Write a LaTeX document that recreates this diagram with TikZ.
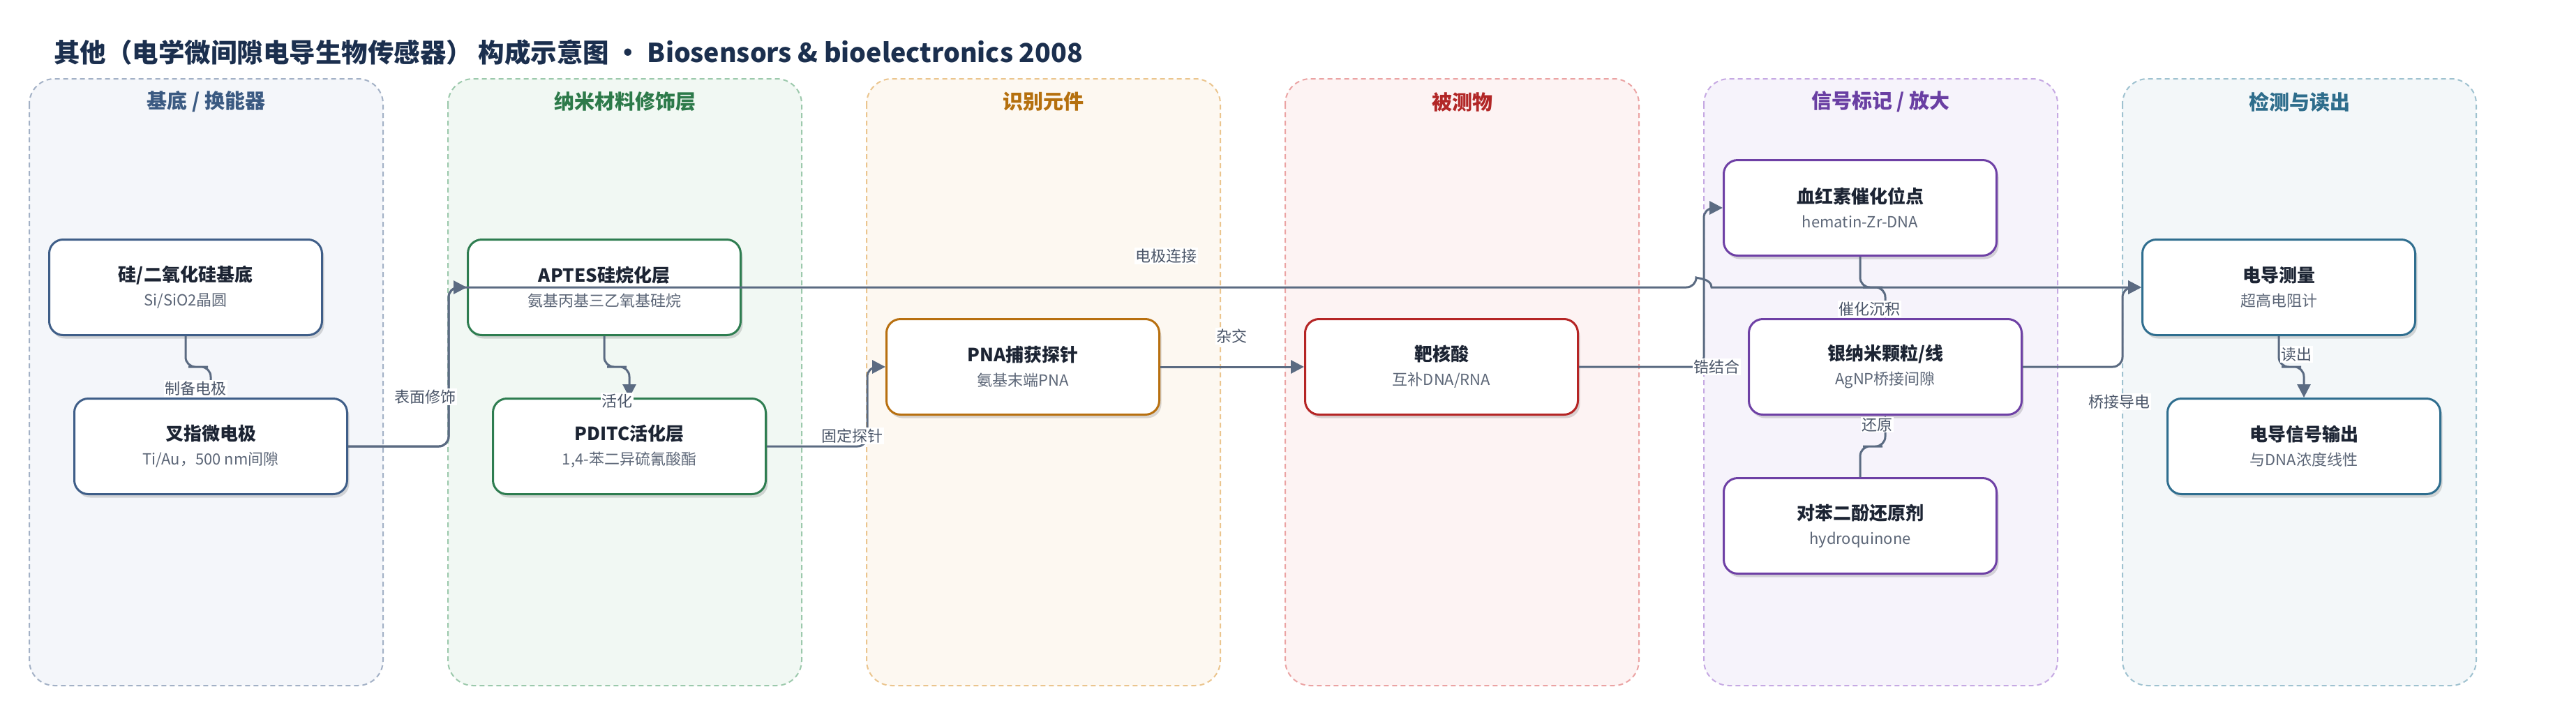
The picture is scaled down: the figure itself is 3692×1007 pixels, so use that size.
\documentclass[tikz,border=0pt]{standalone}
\usepackage{fontspec}
\setmainfont{Noto Sans CJK SC}
\usetikzlibrary{arrows.meta,shadows,calc}
\definecolor{laneAf}{HTML}{F4F6FA}\definecolor{laneAd}{HTML}{A3B1C6}\definecolor{laneAt}{HTML}{3B5A82}\definecolor{laneAn}{HTML}{3F5E88}
\definecolor{laneBf}{HTML}{F1F8F3}\definecolor{laneBd}{HTML}{9CC9AC}\definecolor{laneBt}{HTML}{2D7A4A}\definecolor{laneBn}{HTML}{2E7D50}
\definecolor{laneCf}{HTML}{FDF8F1}\definecolor{laneCd}{HTML}{EBC58E}\definecolor{laneCt}{HTML}{B5700E}\definecolor{laneCn}{HTML}{B87010}
\definecolor{laneDf}{HTML}{FDF3F3}\definecolor{laneDd}{HTML}{EBA3A3}\definecolor{laneDt}{HTML}{B22727}\definecolor{laneDn}{HTML}{B52525}
\definecolor{laneEf}{HTML}{F6F3FB}\definecolor{laneEd}{HTML}{C6A9E3}\definecolor{laneEt}{HTML}{6A3FA3}\definecolor{laneEn}{HTML}{6E40A5}
\definecolor{laneFf}{HTML}{F3F7F9}\definecolor{laneFd}{HTML}{9FC2D0}\definecolor{laneFt}{HTML}{2E6D8C}\definecolor{laneFn}{HTML}{2F6E8F}
\definecolor{edgec}{HTML}{5B6B82}
\definecolor{titlec}{HTML}{1B2F4E}
\definecolor{nodettl}{HTML}{1C2433}
\definecolor{nodesub}{HTML}{5C6677}
\definecolor{lblc}{HTML}{4A5568}
\newcommand\ttl[1]{{\fontsize{26}{30}\selectfont\bfseries\color{nodettl}#1}}
\begin{document}
\begin{tikzpicture}[x=1pt,y=-1pt,
  lane/.style={dashed, dash pattern=on 7pt off 5pt, line width=2pt, rounded corners=36pt},
  lanetitle/.style={font=\fontsize{29}{32}\selectfont\bfseries, inner sep=0pt},
  box/.style={rectangle, rounded corners=20pt, minimum width=391pt, minimum height=137pt,
    line width=3pt, fill=white, align=center, text=nodesub,
    font=\fontsize{22}{35}\selectfont,
    drop shadow={shadow xshift=3pt, shadow yshift=-5pt, opacity=0.14, fill=black}},
  conn/.style={draw=edgec, line width=3pt, rounded corners=14pt, -{Triangle[length=19pt,width=19pt]}},
  lbl/.style={fill=white, text=lblc, font=\fontsize{22}{24}\selectfont, inner sep=1.5pt}
]
\useasboundingbox (0,0) rectangle (3692,1007);
\fill[white] (0,0) rectangle (3692,1007);

\node[anchor=west, text=titlec, font=\fontsize{37.5}{42}\selectfont\bfseries, inner sep=0pt] (title) at (77,75)
  {其他（电学微间隙电导生物传感器） 构成示意图 • Biosensors \& bioelectronics 2008};

% lanes
\draw[lane, fill=laneAf, draw=laneAd] (42,113) rectangle (549,983);
\draw[lane, fill=laneBf, draw=laneBd] (642,113) rectangle (1149,983);
\draw[lane, fill=laneCf, draw=laneCd] (1242,113) rectangle (1749,983);
\draw[lane, fill=laneDf, draw=laneDd] (1842,113) rectangle (2349,983);
\draw[lane, fill=laneEf, draw=laneEd] (2442,113) rectangle (2949,983);
\draw[lane, fill=laneFf, draw=laneFd] (3042,113) rectangle (3549,983);

\node[lanetitle, text=laneAt] (t1) at (295.5,146) {基底 / 换能器};
\node[lanetitle, text=laneBt] (t2) at (895.5,146) {纳米材料修饰层};
\node[lanetitle, text=laneCt] (t3) at (1495.5,146) {识别元件};
\node[lanetitle, text=laneDt] (t4) at (2095.5,146) {被测物};
\node[lanetitle, text=laneEt] (t5) at (2695.5,146) {信号标记 / 放大};
\node[lanetitle, text=laneFt] (t6) at (3295.5,146) {检测与读出};

% nodes
\node[box, draw=laneAn] (n1) at (266,412) {\ttl{硅/二氧化硅基底}\\Si/SiO2晶圆};
\node[box, draw=laneAn] (n2) at (302,640) {\ttl{叉指微电极}\\Ti/Au，500 nm间隙};
\node[box, draw=laneBn] (n3) at (866,412) {\ttl{APTES硅烷化层}\\氨基丙基三乙氧基硅烷};
\node[box, draw=laneBn] (n4) at (902,640) {\ttl{PDITC活化层}\\1,4-苯二异硫氰酸酯};
\node[box, draw=laneCn] (n5) at (1466,526) {\ttl{PNA捕获探针}\\氨基末端PNA};
\node[box, draw=laneDn] (n6) at (2066,526) {\ttl{靶核酸}\\互补DNA/RNA};
\node[box, draw=laneEn] (n7) at (2666,298) {\ttl{血红素催化位点}\\hematin-Zr-DNA};
\node[box, draw=laneEn] (n8) at (2702,526) {\ttl{银纳米颗粒/线}\\AgNP桥接间隙};
\node[box, draw=laneEn] (n9) at (2666,754) {\ttl{对苯二酚还原剂}\\hydroquinone};
\node[box, draw=laneFn] (n10) at (3266,412) {\ttl{电导测量}\\超高电阻计};
\node[box, draw=laneFn] (n11) at (3302,640) {\ttl{电导信号输出}\\与DNA浓度线性};

\coordinate (c2) at (643,0);
\coordinate (c3) at (1243,0);
\coordinate (c5) at (2442,0);
\coordinate (c6) at (3042,0);

% connectors
\draw[conn] (n1.south) |- ($(n1.south)!0.5!(n2.north)$) -| (n2.north);
\draw[conn] (n2.east) -| (c2 |- n3.west) -- (n3.west);
\draw[conn] (n2.east) -| (c2 |- n3.west) -- (2431,412) [sharp corners] .. controls (2431,399) and (2453,399) .. (2453,412) -- (n10.west);
\draw[conn] (n3.south) |- ($(n3.south)!0.5!(n4.north)$) -| (n4.north);
\draw[conn] (n4.east) -| (c3 |- n5.west) -- (n5.west);
\draw[conn] (n5.east) -- (n6.west);
\draw[conn] (n6.east) -| (c5 |- n7.west) -- (n7.west);
\draw[conn] (n7.south) |- ($(n7.south)!0.5!(n8.north)$) -| (n8.north);
\draw[conn] (n9.north) |- ($(n9.north)!0.5!(n8.south)$) -| (n8.south);
\draw[conn] (n8.east) -| (c6 |- n10.west) -- (n10.west);
\draw[conn] (n10.south) |- ($(n10.south)!0.5!(n11.north)$) -| (n11.north);

% labels
\node[lbl] (l1) at (280,557) {制备电极};
\node[lbl] (l2) at (609,569) {表面修饰};
\node[lbl] (l3) at (1671,367) {电极连接};
\node[lbl] (l4) at (884,575) {活化};
\node[lbl] (l5) at (1221,625) {固定探针};
\node[lbl] (l6) at (1765,482) {杂交};
\node[lbl] (l7) at (2460,526) {锆结合};
\node[lbl] (l8) at (2679,443) {催化沉积};
\node[lbl] (l9) at (2690,609) {还原};
\node[lbl] (l10) at (3037,576) {桥接导电};
\node[lbl] (l11) at (3291,508) {读出};
\end{tikzpicture}
\end{document}
